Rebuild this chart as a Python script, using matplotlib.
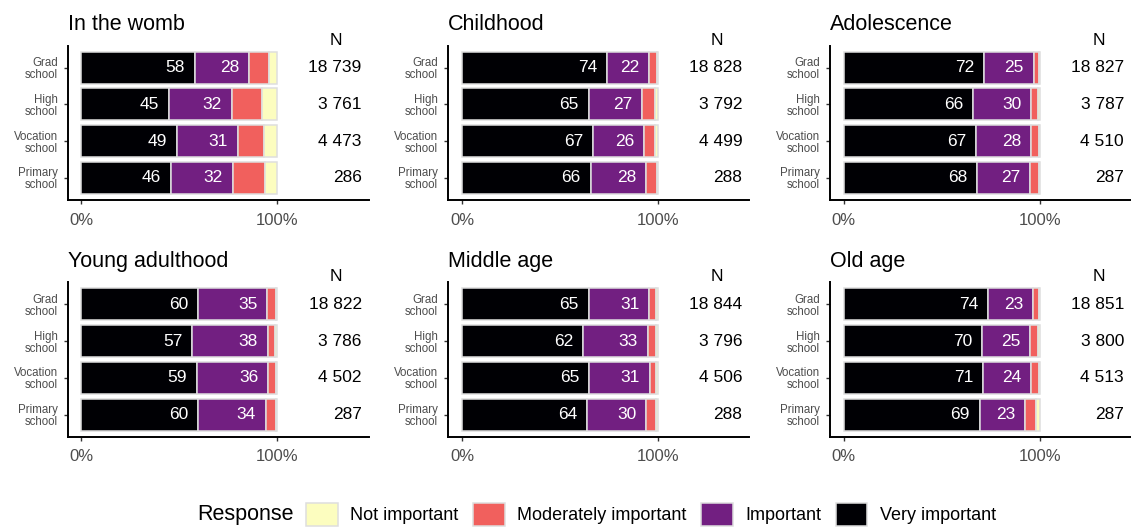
import matplotlib
matplotlib.use("Agg")
import matplotlib.pyplot as plt
from matplotlib.patches import Patch

plt.rcParams["font.family"] = ["Liberation Sans", "DejaVu Sans"]

# ---------------------------------------------------------
# Data (percent of respondents, rows top to bottom: Grad, High, Vocation, Primary)
# ---------------------------------------------------------

panels = ["In the womb", "Childhood", "Adolescence",
          "Young adulthood", "Middle age", "Old age"]
education = ["Grad\nschool", "High\nschool", "Vocation\nschool", "Primary\nschool"]
responses = ["Very important", "Important", "Moderately important", "Not important"]

very_important = [
    [57.8, 44.6, 48.6, 45.6],
    [74.0, 64.6, 66.8, 65.6],
    [71.6, 65.9, 67.4, 68.0],
    [59.6, 56.6, 59.0, 59.6],
    [64.6, 61.6, 64.8, 63.8],
    [73.8, 70.4, 71.2, 69.3],
]
important = [
    [27.7, 32.0, 31.1, 31.7],
    [21.6, 27.2, 26.2, 28.3],
    [25.3, 29.7, 28.2, 27.0],
    [35.3, 38.4, 36.2, 34.4],
    [31.0, 33.1, 30.9, 30.1],
    [22.7, 24.6, 24.4, 23.4],
]
moderately_important = [
    [10.2, 15.3, 13.6, 16.6],
    [3.8, 6.5, 5.5, 5.6],
    [2.7, 3.7, 3.9, 4.5],
    [4.2, 4.0, 4.0, 5.1],
    [3.6, 4.4, 3.4, 5.2],
    [3.2, 4.3, 3.9, 5.6],
]
not_important = [
    [4.3, 8.1, 6.7, 6.1],
    [0.6, 1.7, 1.5, 0.5],
    [0.4, 0.7, 0.5, 0.5],
    [0.9, 1.0, 0.8, 0.9],
    [0.8, 0.9, 0.9, 0.9],
    [0.3, 0.7, 0.5, 1.7],
]
sample_size = [
    [18739, 3761, 4473, 286],
    [18828, 3792, 4499, 288],
    [18827, 3787, 4510, 287],
    [18822, 3786, 4502, 287],
    [18844, 3796, 4506, 288],
    [18851, 3800, 4513, 287],
]

colors = ["#000004", "#721F81", "#F1605D", "#FCFDBF"]
edge = "#dedede"
grey_txt = "#4d4d4d"

# ---------------------------------------------------------
# Plotting
# ---------------------------------------------------------

fig = plt.figure(figsize=(11.31, 5.29), dpi=100)

W, H = 1131, 529
lefts = [67.7, 448.3, 830.0]
bottoms = [200.0, 436.7]
ax_w, ax_h = 301.0, 154.3

ypos = [4, 3, 2, 1]

for k, name in enumerate(panels):
    r, c = divmod(k, 3)
    ax = fig.add_axes([lefts[c] / W, 1 - bottoms[r] / H, ax_w / W, ax_h / H])

    series = [very_important[k], important[k], moderately_important[k], not_important[k]]
    start = [0.0] * 4
    for s, vals in enumerate(series):
        ax.barh(ypos, vals, left=start, height=0.87, color=colors[s],
                edgecolor=edge, linewidth=1.1)
        # value labels only for the two biggest categories
        if s < 2:
            for y, x0, v in zip(ypos, start, vals):
                ax.text(x0 + v - 5, y, f"{v:.0f}", ha="right", va="center",
                        color="white", fontsize=12.5)
        start = [a + b for a, b in zip(start, vals)]

    for y, n in zip(ypos, sample_size[k]):
        ax.text(143, y, f"{n:,}".replace(",", " "), ha="right", va="center",
                fontsize=12.5)
    ax.text(130, 4.75, "N", ha="center", va="center", fontsize=12.5, clip_on=False)

    ax.set_xlim(-7, 146.6)
    ax.set_ylim(0.4, 4.6)
    ax.set_xticks([0, 100])
    ax.set_xticklabels(["0%", "100%"])
    ax.set_yticks(ypos)
    ax.set_yticklabels(education, linespacing=1.0)
    ax.tick_params(axis="x", length=3.2, width=1.0, labelsize=12, colors=grey_txt,
                   pad=6)
    ax.tick_params(axis="y", length=3.2, width=1.0, labelsize=8.3, colors=grey_txt,
                   pad=4)
    ax.tick_params(color="#333333")
    for side in ["top", "right"]:
        ax.spines[side].set_visible(False)
    for side in ["left", "bottom"]:
        ax.spines[side].set_linewidth(1.4)
        ax.spines[side].set_color("black")
    ax.set_title(name, loc="left", fontsize=15.5, pad=11)

# Legend
order = [3, 2, 1, 0]
handles = [Patch(facecolor=colors[i], edgecolor=edge, linewidth=1.1) for i in order]
labels = [responses[i] for i in order]
fig.legend(handles, labels, ncol=4, loc="center left",
           bbox_to_anchor=(306 / W, 0.028), frameon=False, fontsize=13,
           handlelength=1.75, handleheight=1.6, handletextpad=0.7,
           columnspacing=0.8, borderpad=0, borderaxespad=0)
fig.text(197 / W, 0.028, "Response", ha="left", va="center", fontsize=15.5)

fig.savefig("out.png", dpi=100)
